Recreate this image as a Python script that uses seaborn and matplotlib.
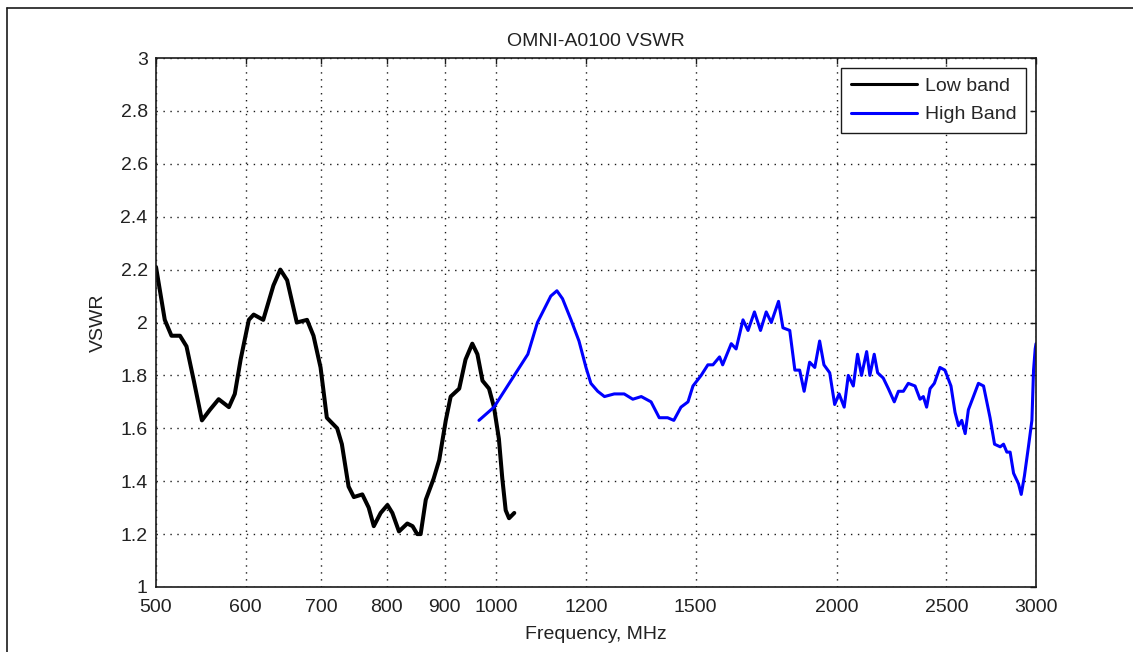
import pandas as pd
import matplotlib
matplotlib.use("Agg")
import matplotlib.pyplot as plt
import seaborn as sns
from matplotlib.lines import Line2D

# Low band sweep (MHz, VSWR)
low_freq = [500, 509, 516, 525, 532, 540, 549, 558, 568, 580,
            587, 594, 604, 610, 622, 635, 644, 653, 666, 680,
            689, 699, 708, 723, 730, 740, 748, 761, 771, 779,
            790, 801, 809, 820, 834, 843, 851, 857, 866, 880,
            890, 902, 911, 927, 939, 952, 962, 972, 985, 995,
            1005, 1012, 1019, 1026, 1037]
low_vswr = [2.21, 2.01, 1.95, 1.95, 1.91, 1.78, 1.63, 1.67, 1.71, 1.68,
            1.73, 1.86, 2.01, 2.03, 2.01, 2.14, 2.20, 2.16, 2.00, 2.01,
            1.95, 1.83, 1.64, 1.60, 1.54, 1.38, 1.34, 1.35, 1.30, 1.23,
            1.28, 1.31, 1.28, 1.21, 1.24, 1.23, 1.20, 1.20, 1.33, 1.41,
            1.48, 1.63, 1.72, 1.75, 1.86, 1.92, 1.88, 1.78, 1.75, 1.68,
            1.56, 1.41, 1.29, 1.26, 1.28]

# High band sweep (MHz, VSWR)
high_freq = [965, 995, 1037, 1066, 1087, 1117, 1131, 1144, 1164, 1183,
             1200, 1212, 1229, 1246, 1271, 1297, 1320, 1343, 1370, 1393,
             1417, 1435, 1456, 1477, 1492, 1517, 1538, 1554, 1575, 1585,
             1613, 1629, 1652, 1669, 1691, 1712, 1732, 1750, 1776, 1792,
             1817, 1836, 1854, 1871, 1892, 1912, 1931, 1948, 1971, 1991,
             2009, 2030, 2047, 2068, 2086, 2103, 2125, 2139, 2158, 2173,
             2198, 2221, 2248, 2267, 2290, 2313, 2345, 2369, 2385, 2401,
             2418, 2439, 2467, 2492, 2523, 2544, 2562, 2579, 2597, 2614,
             2641, 2668, 2696, 2714, 2732, 2757, 2789, 2808, 2827, 2846,
             2866, 2895, 2911, 2930, 2954, 2975, 2985, 2995, 3000]
high_vswr = [1.63, 1.68, 1.80, 1.88, 2.00, 2.10, 2.12, 2.09, 2.01, 1.93,
             1.83, 1.77, 1.74, 1.72, 1.73, 1.73, 1.71, 1.72, 1.70, 1.64,
             1.64, 1.63, 1.68, 1.70, 1.76, 1.80, 1.84, 1.84, 1.87, 1.84,
             1.92, 1.90, 2.01, 1.97, 2.04, 1.97, 2.04, 2.00, 2.08, 1.98,
             1.97, 1.82, 1.82, 1.74, 1.85, 1.83, 1.93, 1.84, 1.81, 1.69,
             1.73, 1.68, 1.80, 1.76, 1.88, 1.80, 1.89, 1.80, 1.88, 1.81,
             1.79, 1.75, 1.70, 1.74, 1.74, 1.77, 1.76, 1.71, 1.72, 1.68,
             1.75, 1.77, 1.83, 1.82, 1.76, 1.66, 1.61, 1.63, 1.58, 1.67,
             1.72, 1.77, 1.76, 1.70, 1.64, 1.54, 1.53, 1.54, 1.51, 1.51,
             1.43, 1.39, 1.35, 1.42, 1.53, 1.63, 1.82, 1.90, 1.92]

x_ticks = [500, 600, 700, 800, 900, 1000, 1200, 1500, 2000, 2500, 3000]
y_ticks = [1, 1.2, 1.4, 1.6, 1.8, 2, 2.2, 2.4, 2.6, 2.8, 3]

PALETTE = {'Low band': '#000000', 'High Band': '#0000ff'}

df = pd.concat([
    pd.DataFrame({'freq': low_freq, 'vswr': low_vswr, 'band': 'Low band'}),
    pd.DataFrame({'freq': high_freq, 'vswr': high_vswr, 'band': 'High Band'}),
], ignore_index=True)

sns.set_theme(style="white")
plt.rcParams['font.family'] = ['Liberation Sans', 'DejaVu Sans']
FS = 14

fig = plt.figure(figsize=(11.33, 6.52), dpi=100)
ax = fig.add_axes([0.1377, 0.0997, 0.9144 - 0.1377, 0.911 - 0.0997])

sns.lineplot(data=df, x='freq', y='vswr', hue='band', palette=PALETTE,
             estimator=None, sort=False, ax=ax, legend=False)
for line, lw in zip(ax.get_lines(), [2.9, 2.2]):
    line.set_linewidth(lw)

ax.set_xscale('log')
ax.set_xlim(500, 3000)
ax.set_ylim(1, 3)
ax.set_xticks(x_ticks)
ax.set_xticklabels([str(t) for t in x_ticks])
ax.xaxis.set_minor_locator(matplotlib.ticker.NullLocator())
ax.set_yticks(y_ticks)
ax.set_yticklabels(['%g' % t for t in y_ticks])

ax.grid(True, which='major', color='0.1', linestyle=(0, (1, 4)), linewidth=1.0)
ax.tick_params(direction='in', length=4, width=1, top=True, right=True,
               colors='0.1', labelcolor='#222222', labelsize=FS)
ax.tick_params(axis='x', pad=9)
ax.tick_params(axis='y', pad=6)
for s in ax.spines.values():
    s.set_color('0.1')
    s.set_linewidth(1.2)

ax.set_title('OMNI-A0100 VSWR', fontsize=FS, color='#222222', pad=9)
ax.set_xlabel('Frequency, MHz', fontsize=FS, color='#222222', labelpad=7)
ax.set_ylabel('VSWR', fontsize=FS, color='#222222', labelpad=10)

handles = [Line2D([], [], color=PALETTE[k], lw=2.2) for k in PALETTE]
leg = ax.legend(handles, list(PALETTE), loc='upper right', fontsize=FS,
                frameon=True, fancybox=False, edgecolor='0.1', framealpha=1,
                handlelength=3.4, handletextpad=0.4, labelspacing=0.55,
                borderpad=0.5, borderaxespad=0.5)
leg.get_frame().set_linewidth(1.0)

# outer frame of the figure window (left and top edges)
fig.add_artist(Line2D([7 / 1133, 7 / 1133], [0, 1 - 8 / 652], color='0.1', lw=1.2))
fig.add_artist(Line2D([7 / 1133, 1], [1 - 8 / 652, 1 - 8 / 652], color='0.1', lw=1.2))

fig.savefig('out.png', dpi=100)
